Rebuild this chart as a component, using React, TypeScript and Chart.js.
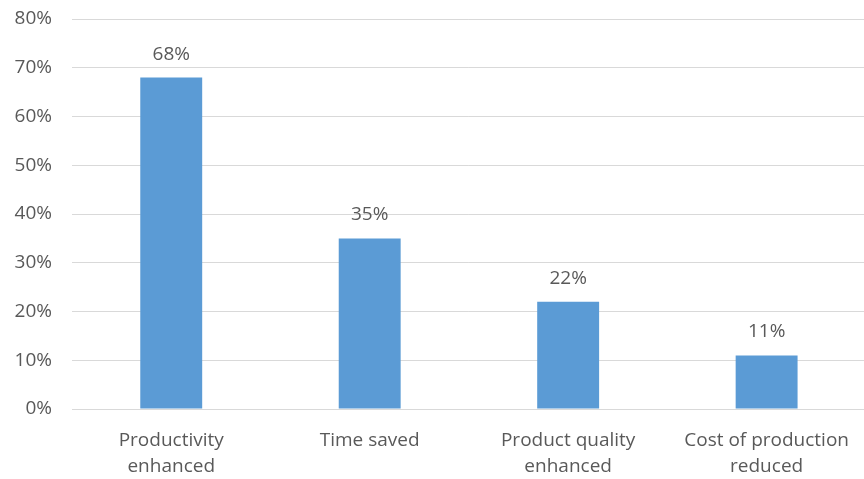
import React, { useEffect, useRef } from "react";
import { Chart, registerables } from "chart.js";

Chart.register(...registerables);

const categories: string[][] = [
  ["Productivity", "enhanced"],
  ["Time saved"],
  ["Product quality", "enhanced"],
  ["Cost of production", "reduced"],
];
const values: number[] = [68, 35, 22, 11];
const yTicks: number[] = [0, 10, 20, 30, 40, 50, 60, 70, 80];

const FONT = "'Open Sans', 'Noto Sans', sans-serif";
const TEXT = "#595959";

const labelPlugin = {
  id: "barLabels",
  afterDatasetsDraw(chart: any) {
    const ctx = chart.ctx;
    const meta = chart.getDatasetMeta(0);
    ctx.save();
    ctx.font = `19px ${FONT}`;
    ctx.fillStyle = TEXT;
    ctx.textAlign = "center";
    ctx.textBaseline = "alphabetic";
    meta.data.forEach((bar: any, i: number) => {
      ctx.fillText(`${values[i]}%`, bar.x, bar.y - 18);
    });
    ctx.restore();
  },
};

export default function App() {
  const ref = useRef<HTMLCanvasElement | null>(null);
  useEffect(() => {
    document.body.style.margin = "0";
    document.body.style.overflow = "hidden";
    document.documentElement.style.overflow = "hidden";
    const chart = new Chart(ref.current!, {
      type: "bar",
      data: {
        labels: categories,
        datasets: [
          {
            data: values,
            backgroundColor: "#5B9BD5",
            barPercentage: 0.312,
            categoryPercentage: 1,
          },
        ],
      },
      plugins: [labelPlugin],
      options: {
        animation: false,
        responsive: false,
        maintainAspectRatio: false,
        layout: { padding: { top: 0, right: 0, left: 0, bottom: 0 } },
        plugins: { legend: { display: false }, tooltip: { enabled: false } },
        scales: {
          x: {
            grid: { display: false, drawTicks: false },
            border: { color: "#d9d9d9", width: 1 },
            ticks: {
              color: TEXT,
              font: { family: FONT, size: 19, lineHeight: "26px" },
              padding: 19,
              maxRotation: 0,
              autoSkip: false,
            },
            afterFit: (scale: any) => {
              scale.height = 70;
            },
          },
          y: {
            min: 0,
            max: 80,
            afterBuildTicks: (scale: any) => {
              scale.ticks = yTicks.map((v) => ({ value: v }));
            },
            grid: { color: "#d9d9d9", drawTicks: false },
            border: { display: false },
            ticks: {
              color: TEXT,
              font: { family: FONT, size: 19 },
              padding: 20,
              callback: (v: any) => `${v}%`,
            },
            afterFit: (scale: any) => {
              scale.width = 72;
              scale.paddingTop = 19;
              scale.paddingBottom = 0;
            },
          },
        },
      },
    });
    return () => chart.destroy();
  }, []);
  return (
    <div style={{ width: 868, height: 479 }}>
      <canvas ref={ref} width={868} height={479} style={{ display: "block" }} />
    </div>
  );
}
